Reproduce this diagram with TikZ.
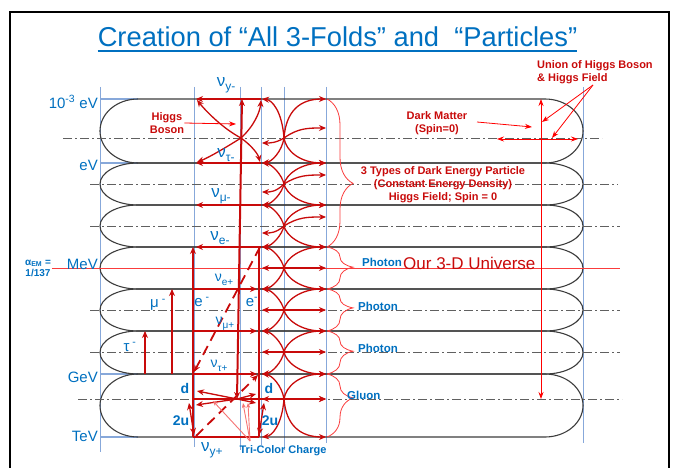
\documentclass[tikz,border=0pt]{standalone}
\usepackage{fontspec}
\setmainfont{Liberation Sans}
\usetikzlibrary{arrows.meta,decorations.pathreplacing}
\definecolor{lblblue}{RGB}{0,112,192}
\definecolor{guideblue}{RGB}{135,168,218}
\definecolor{deepred}{RGB}{200,10,10}
\definecolor{lightred}{RGB}{250,60,60}
\definecolor{pinkred}{RGB}{245,115,115}
\definecolor{foldgray}{RGB}{60,60,60}
\tikzset{
  foldln/.style={draw=foldgray, line width=1.1pt},
  midln/.style={draw=gray!75!black, line width=0.9pt, dash pattern=on 9pt off 3pt on 2pt off 3pt},
  guide/.style={draw=guideblue, line width=0.8pt},
  arrw/.style={-{Stealth[length=7pt,width=6pt]}, draw=deepred, line width=1.3pt},
  thickarrw/.style={arrw, line width=2pt},
  darrw/.style={{Stealth[length=7pt,width=6pt]}-{Stealth[length=7pt,width=6pt]}, draw=deepred, line width=1.3pt},
  dasharrw/.style={arrw, line width=1.8pt, dash pattern=on 10pt off 6pt},
  pointer/.style={-{Stealth[length=7pt,width=5pt]}, draw=red, line width=0.8pt},
  tcline/.style={-{Stealth[length=5pt,width=4pt]}, draw=pinkred, line width=0.9pt},
  brc/.style={draw=lightred, line width=0.8pt, decorate, decoration={brace, amplitude=26pt, aspect=#1}},
  brc/.default=0.5,
  titlelbl/.style={font=\fontsize{27.3}{27.3}\selectfont, text=lblblue, inner sep=0pt},
  lvl/.style={font=\fontsize{15}{15}\selectfont, text=lblblue, inner sep=0pt, anchor=east},
  nulbl/.style={font=\fontsize{17}{17}\selectfont, text=lblblue, inner sep=0pt},
  smnulbl/.style={font=\fontsize{14}{14}\selectfont, text=lblblue, inner sep=0pt},
  partlbl/.style={font=\fontsize{15}{15}\selectfont, text=lblblue, inner sep=0pt},
  quarklbl/.style={font=\fontsize{14}{14}\selectfont\bfseries, text=lblblue, inner sep=0pt},
  bosonlbl/.style={font=\fontsize{11.5}{11.5}\selectfont\bfseries, text=lblblue, inner sep=0pt, anchor=west},
  notelbl/.style={font=\fontsize{11}{13}\selectfont\bfseries, text=deepred, align=center, inner sep=0pt},
}
% neutrino with a lowered tag
\newcommand{\nusub}[2]{ν\raisebox{-4pt}{\fontsize{#2}{#2}\selectfont #1}}
% one fold: top edge, bottom edge
\newcommand{\fold}[2]{%
  \pgfmathsetmacro{\fmid}{(#1+#2)/2}%
  \pgfmathsetmacro{\fk}{0.276*(#2-#1)}%
  \draw[foldln] (138,#1) -- (545,#1)
    .. controls (566,#1) and (583,\fmid-\fk) .. (583,\fmid)
    .. controls (583,\fmid+\fk) and (566,#2) .. (545,#2)
    -- (138,#2)
    .. controls (117,#2) and (100,\fmid+\fk) .. (100,\fmid)
    .. controls (100,\fmid-\fk) and (117,#1) .. (138,#1) -- cycle;
}
% fan of field lines: top, hub, bottom, right middle, left middle
\newcommand{\fan}[5]{%
  \draw[arrw] (284,#2) .. controls (286,#1+12) and (300,#1) .. (326,#1);
  \draw[arrw] (284,#2) .. controls (282,#1+12) and (272,#1+1) .. (262,#1);
  \draw[arrw] (284,#2) .. controls (298,#4) and (308,#4) .. (326,#4);
  \draw[arrw] (284,#2) .. controls (276,#5) and (270,#5) .. (262,#5);
  \draw[arrw] (284,#2) .. controls (286,#3-12) and (300,#3) .. (326,#3);
  \draw[arrw] (284,#2) .. controls (282,#3-12) and (272,#3-1) .. (262,#3);
}

\begin{document}
\begin{tikzpicture}[x=1pt, y=-1pt]
  \useasboundingbox (0,0) rectangle (675,468);
  \draw[line width=2.6pt] (10,470) -- (10,12) -- (669,12) -- (669,470);

  \node[titlelbl, anchor=base] (title) at (337.5,47)
    {Creation of “All 3-Folds” and \ “Particles”};
  \draw[lblblue, line width=1.6pt] ([yshift=-4pt]title.base west) -- ([yshift=-4pt]title.base east);

  % guide lines
  \draw[guide] (100,87) -- (100,452) (194,87) -- (194,447) (240,87) -- (240,450)
    (261,87) -- (261,445) (284,87) -- (284,450) (326,87) -- (326,443) (583,87) -- (583,443);
  \draw[guide, line width=1.2pt] (100,99) -- (138,99) (100,163) -- (138,163)
    (100,374) -- (138,374) (100,437) -- (138,437);

  % the folds
  \fold{99}{163}
  \fold{163}{205}
  \fold{205}{247}
  \fold{247}{289}
  \fold{289}{331}
  \fold{331}{374}
  \fold{374}{437}

  \draw[midln] (63,138) -- (602,138);
  \draw[midln] (90,184) -- (618,184);
  \draw[midln] (90,226) -- (620,226);
  \draw[midln] (90,310) -- (620,310);
  \draw[midln] (90,352) -- (620,352);
  \draw[midln] (78,399) -- (622,399);
  \draw[lightred, line width=1pt] (52,268) -- (620,268);

  % level labels
  \node[lvl] (ev3) at (98,102) {10\textsuperscript{-3} eV};
  \node[lvl] (ev) at (98,165) {eV};
  \node[lvl] (mev) at (98,264) {MeV};
  \node[lvl] (gev) at (98,377) {GeV};
  \node[lvl] (tev) at (98,436) {TeV};
  \node[font=\fontsize{10}{11}\selectfont\bfseries, text=lblblue, inner sep=0pt, align=center]
    (alpha) at (38,268) {α\textsubscript{EM} =\\1/137};

  % neutrino lines
  \draw[thickarrw] (261,99) -- (196,99);
  \draw[thickarrw] (261,163) -- (196,163);
  \draw[thickarrw] (261,205) -- (196,205);
  \draw[thickarrw] (261,247) -- (196,247);
  \draw[thickarrw] (193,289) -- (257,289);
  \draw[thickarrw] (193,331) -- (257,331);
  \draw[thickarrw] (193,374) -- (257,374);
  \draw[deepred, line width=2pt] (193,437) -- (259,437);
  \draw[thickarrw] (193,399) -- (326,399);

  % lepton lines
  \draw[thickarrw] (145,374) -- (145,331);
  \draw[thickarrw] (172,374) -- (172,289);
  \draw[thickarrw] (193,437) -- (193,247);
  \draw[deepred, line width=2pt] (259,247) -- (259,437);
  \draw[darrw, line width=2pt] (237,399) -- (242,99);
  \draw[dasharrw] (260,247) -- (194,372);
  \draw[dasharrw] (196,436) -- (258,375);

  % Higgs boson cross
  \draw[arrw] (241,138) .. controls (222,128) and (205,110) .. (197,100);
  \draw[arrw] (241,138) .. controls (254,126) and (260,112) .. (261,100);
  \draw[arrw] (241,138) .. controls (225,148) and (208,158) .. (197,162);
  \draw[arrw] (241,138) .. controls (252,146) and (258,154) .. (260,162);

  % field fans
  \fan{99}{138}{163}{128}{143}
  \fan{163}{184}{205}{175}{192}
  \fan{205}{226}{247}{217}{233}
  \fan{247}{268}{289}{268}{268}
  \fan{289}{310}{331}{310}{310}
  \fan{331}{352}{374}{352}{352}
  \fan{374}{399}{437}{399}{399}

  % quark corner
  \draw[arrw] (237,399) -- (197,391);
  \draw[arrw] (237,399) -- (196,405);
  \draw[arrw] (237,399) -- (256,394);
  \draw[arrw] (237,399) -- (256,403);
  \draw[darrw] (189,403) -- (194,435);
  \draw[darrw] (264,403) -- (259,435);
  \draw[tcline] (250,441) -- (213,401);
  \draw[tcline] (250,441) -- (243,403);
  \draw[tcline] (250,441) -- (248,403);

  % particle labels
  \node[nulbl] (nuy) at (226,85) {\nusub{y-}{12}};
  \node[nulbl] (nut) at (226,155) {\nusub{τ-}{12}};
  \node[nulbl] (num) at (221,196) {\nusub{μ-}{12}};
  \node[nulbl] (nue) at (220,238) {\nusub{e-}{12}};
  \node[smnulbl] (nuep) at (224,280) {\nusub{e+}{10}};
  \node[smnulbl] (nump) at (225,324) {\nusub{μ+}{10}};
  \node[smnulbl] (nutp) at (219,366) {\nusub{τ+}{10}};
  \node[nulbl] (nuyp) at (212,450) {\nusub{y+}{12}};
  \node[partlbl] (muon) at (158,305) {μ\textsuperscript{ -}};
  \node[partlbl] (elec) at (202,302) {e\textsuperscript{ -}};
  \node[partlbl] (elecr) at (252,302) {e\textsuperscript{-}};
  \node[partlbl] (tau) at (130,347) {τ\textsuperscript{ -}};
  \node[quarklbl] (dl) at (185,388) {d};
  \node[quarklbl] (dr) at (269,388) {d};
  \node[quarklbl] (ul) at (181,421) {2u};
  \node[quarklbl] (ur) at (270,421) {2u};
  \node[font=\fontsize{11}{11}\selectfont\bfseries, text=lblblue, inner sep=0pt]
    (tricolor) at (283,451) {Tri-Color Charge};

  % braces and bosons
  \draw[brc=0.57] (327,99) -- (327,247);
  \draw[brc=0.48] (327,247) -- (327,289);
  \draw[brc=0.45] (327,289) -- (327,331);
  \draw[brc=0.47] (327,331) -- (327,374);
  \draw[brc=0.38] (327,374) -- (327,437);
  \node[notelbl] (darken) at (443,185)
    {3 Types of Dark Energy Particle\\(Constant Energy Density)\\Higgs Field; Spin = 0};
  \node[bosonlbl] (ph1) at (362,262) {Photon};
  \node[font=\fontsize{17}{17}\selectfont, text=deepred, inner sep=0pt, anchor=west]
    (universe) at (403,263) {Our 3-D Universe};
  \node[bosonlbl] (ph2) at (358,306) {Photon};
  \node[bosonlbl] (ph3) at (358,348) {Photon};
  \node[bosonlbl] (gluon) at (347,395) {Gluon};

  % Higgs notes
  \node[notelbl] (higgs) at (167,123) {Higgs\\Boson};
  \draw[pointer] (higgs.east) -- (236,124);
  \node[notelbl] (dark) at (437,123) {Dark Matter\\(Spin=0)};
  \coordinate (darkend) at (532,127);
  \draw[pointer] (477,122) -- (darkend);
  \draw[pointer, {Stealth[length=7pt,width=5pt]}-{Stealth[length=7pt,width=5pt]}] (541,99) -- (541,399);
  \draw[pointer, {Stealth[length=7pt,width=5pt]}-{Stealth[length=7pt,width=5pt]}] (497,139) -- (578,139);
  \node[notelbl, align=left, anchor=west] (union) at (537,72) {Union of Higgs Boson\\\& Higgs Field};
  \draw[pointer] (593,85) -- (542,122);
  \draw[pointer] (593,85) -- (552,138);
\end{tikzpicture}
\end{document}
